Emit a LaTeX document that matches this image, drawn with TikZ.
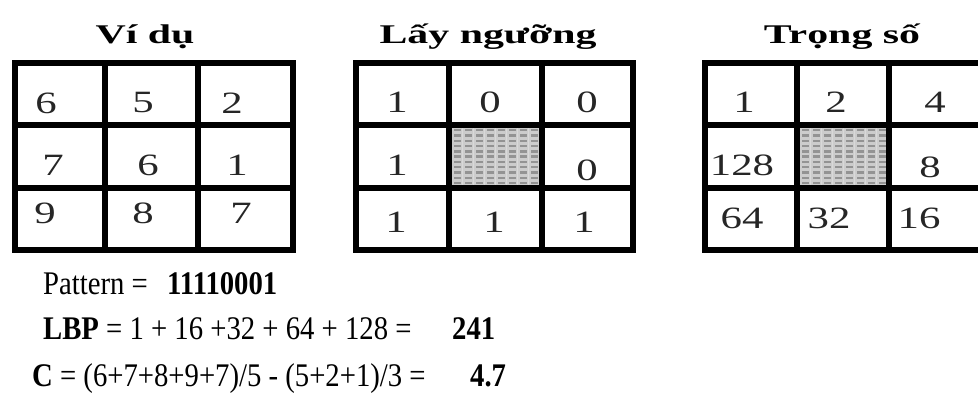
\documentclass[tikz,border=0pt]{standalone}
\usepackage{graphicx}
\usepackage{fontspec}
\setmainfont{Liberation Serif}
\newcommand\cellnum[1]{\scalebox{1.38}[1]{#1}}
\newcommand\eqs[1]{\scalebox{0.87}[1]{#1}}
\newcommand\ttl[1]{\scalebox{1.55}[1]{#1}}
\begin{document}
\begin{tikzpicture}[x=1pt,y=-1pt,
  gridline/.style={line width=6pt, line cap=rect, black},
  celltxt/.style={inner sep=0pt, anchor=center, text=black!85, font=\fontsize{31}{31}\selectfont},
  titletxt/.style={inner sep=0pt, anchor=base, font=\fontsize{27}{27}\selectfont\bfseries},
  eqtxt/.style={inner sep=0pt, anchor=base west, font=\fontsize{33}{33}\selectfont},
  hatchbg/.style={fill=gray!40},
  hatchdash/.style={fill=gray!85}
]
\useasboundingbox (0,0) rectangle (978,395);
\fill[white] (0,0) rectangle (978,395);
\clip (0,0) rectangle (978,395);

% titles
\node[titletxt] (t1) at (145,44) {\ttl{Ví dụ}};
\node[titletxt] (t2) at (488,44) {\ttl{Lấy ngưỡng}};
\node[titletxt] (t3) at (842,44) {\ttl{Trọng số}};

% hatched centre cells
\foreach \xa/\xb in {452/539, 800/886} {
  \begin{scope}
    \clip (\xa,128) rectangle (\xb,185);
    \fill[hatchbg] (\xa,128) rectangle (\xb,185);
    \foreach \i in {0,...,8} {
      \fill[white!70!gray] ({\xa+9.5+\i*11},128) rectangle ++(1.8,57);
      \foreach \j in {0,...,10} {
        \fill[hatchdash] ({\xa+2+\i*11},{129+\j*5.3}) rectangle ++(7,2.4);
      }
    }
  \end{scope}
}

% grids
\foreach \xs/\xe in {15/293, 356/633, 705/981} {
  \foreach \y in {63,125,188,250} \draw[gridline] (\xs,\y) -- (\xe,\y);
}
\foreach \x in {15,105,198,293, 356,449,542,633, 705,797,889,981} {
  \draw[gridline] (\x,63) -- (\x,250);
}

% left grid values
\node[celltxt] (a11) at (46,103) {\cellnum{6}};
\node[celltxt] (a12) at (143,103) {\cellnum{5}};
\node[celltxt] (a13) at (232,103) {\cellnum{2}};
\node[celltxt] (a21) at (53,165) {\cellnum{7}};
\node[celltxt] (a22) at (148,165) {\cellnum{6}};
\node[celltxt] (a23) at (237,165) {\cellnum{1}};
\node[celltxt] (a31) at (45,213) {\cellnum{9}};
\node[celltxt] (a32) at (143,213) {\cellnum{8}};
\node[celltxt] (a33) at (241,213) {\cellnum{7}};

% middle grid values
\node[celltxt] (b11) at (397,102) {\cellnum{1}};
\node[celltxt] (b12) at (490,102) {\cellnum{0}};
\node[celltxt] (b13) at (587,102) {\cellnum{0}};
\node[celltxt] (b21) at (397,165) {\cellnum{1}};
\node[celltxt] (b23) at (587,170) {\cellnum{0}};
\node[celltxt] (b31) at (396,222) {\cellnum{1}};
\node[celltxt] (b32) at (494,222) {\cellnum{1}};
\node[celltxt] (b33) at (584,222) {\cellnum{1}};

% right grid values
\node[celltxt] (c11) at (744,102) {\cellnum{1}};
\node[celltxt] (c12) at (836,102) {\cellnum{2}};
\node[celltxt] (c13) at (935,102) {\cellnum{4}};
\node[celltxt] (c21) at (742,165) {\cellnum{128}};
\node[celltxt] (c23) at (930,167) {\cellnum{8}};
\node[celltxt] (c31) at (742,218) {\cellnum{64}};
\node[celltxt] (c32) at (829,218) {\cellnum{32}};
\node[celltxt] (c33) at (919,218) {\cellnum{16}};

% equations
\node[eqtxt] (pat) at (43,295) {\eqs{Pattern =}};
\node[eqtxt] (patv) at (167,295) {\eqs{\bfseries 11110001}};
\node[eqtxt] (lbp) at (43,340) {\eqs{\textbf{LBP} = 1 + 16 +32 + 64 + 128 =}};
\node[eqtxt] (lbpv) at (452,340) {\eqs{\bfseries 241}};
\node[eqtxt] (cc) at (32,387) {\eqs{\textbf{C} = (6+7+8+9+7)/5 - (5+2+1)/3 =}};
\node[eqtxt] (ccv) at (470,387) {\eqs{\bfseries 4.7}};
\end{tikzpicture}
\end{document}
